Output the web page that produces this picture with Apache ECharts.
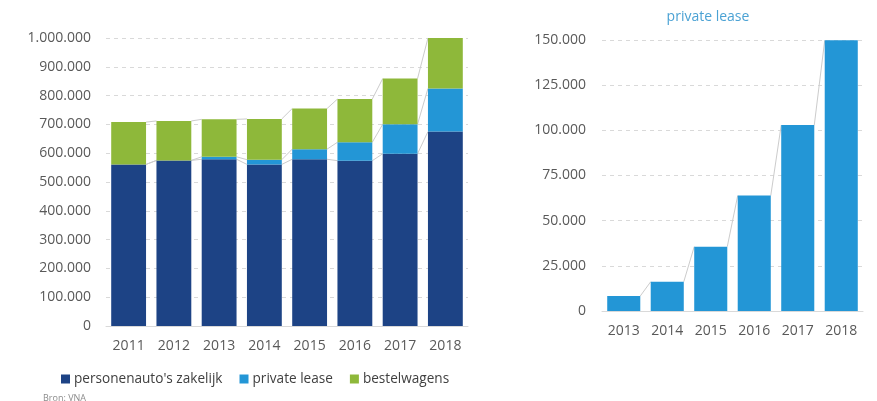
<!DOCTYPE html>
<html>
<head>
<meta charset="utf-8">
<script src="https://cdn.jsdelivr.net/npm/echarts@6/dist/echarts.min.js"></script>
<style>
html,body{margin:0;padding:0;background:#fff;}
#c{width:877px;height:401px;}
</style>
</head>
<body>
<div id="c"></div>
<script>
const years = ['2011','2012','2013','2014','2015','2016','2017','2018'];
const personenautos = [561000, 575000, 579000, 561000, 579000, 574000, 598000, 675000];
const privateLease = [0, 0, 8500, 16500, 35000, 64000, 102500, 150000];
const bestelwagens = [147000, 137000, 130000, 141500, 141000, 150000, 158500, 175000];

const plYears = ['2013','2014','2015','2016','2017','2018'];
const plValues = [8300, 16200, 35600, 63900, 102900, 149800];

const leftTicks = {min: 0, max: 1000000, interval: 100000};
const rightTicks = {min: 0, max: 150000, interval: 25000};

const FONT = '"Open Sans", "Noto Sans", sans-serif';
const C_DARK = '#1d4385';
const C_LIGHT = '#2396d6';
const C_GREEN = '#8eb83a';
const C_LINE = '#cccccc';
const LEFT_GAP = 0.23, RIGHT_GAP = 0.24;

function fmt(v){ return String(v).replace(/\B(?=(\d{3})+(?!\d))/g, '.'); }

// cumulative tops for series lines
const cum1 = personenautos.slice();
const cum2 = personenautos.map((v,i)=>v+privateLease[i]);
const cum3 = cum2.map((v,i)=>v+bestelwagens[i]);
function connectors(arr){
  const out=[];
  for(let i=0;i<arr.length-1;i++) out.push([i, arr[i], arr[i+1]]);
  return out;
}
const leftConn = connectors(cum1).concat(connectors(cum2)).concat(connectors(cum3));
const rightConn = connectors(plValues);

function makeRender(gap){
  return function(params, api){
    const i = api.value(0), a = api.value(1), b = api.value(2);
    const p1 = api.coord([i, a]);
    const p2 = api.coord([i+1, b]);
    const band = api.size([1,0])[0];
    const hw = band*(1-gap)/2;
    return {type:'line', shape:{x1:p1[0]+hw, y1:p1[1], x2:p2[0]-hw, y2:p2[1]},
      style:{stroke:C_LINE, lineWidth:1}, silent:true};
  };
}

const axisLabel = {color:'#595959', fontSize:14, fontFamily:FONT};
const split = {show:true, lineStyle:{color:'#d9d9d9', type:[4,4], width:1}};

const chart = echarts.init(document.getElementById('c'), null, {renderer:'canvas'});
chart.setOption({
  animation:false,
  backgroundColor:'#ffffff',
  textStyle:{fontFamily:FONT},
  title:[
    {text:'private lease', left:703, top:5, textAlign:'center',
     textStyle:{color:'#4ba2d4', fontSize:14, fontWeight:'normal', fontFamily:FONT}},
    {text:'Bron: VNA', left:38, top:389,
     textStyle:{color:'#8c8c8c', fontSize:9, fontWeight:'normal', fontFamily:FONT}}
  ],
  legend:{
    data:["personenauto's zakelijk",'private lease','bestelwagens'],
    left:56, top:367, itemWidth:9, itemHeight:9, itemGap:17, icon:'rect',
    textStyle:{color:'#404040', fontSize:13.6, fontFamily:FONT, padding:[0,0,0,-1]}
  },
  grid:[
    {left:106, right:409, top:38, bottom:75},
    {left:602, right:14, top:40, bottom:90}
  ],
  xAxis:[
    {type:'category', gridIndex:0, data:years, axisTick:{show:false},
     axisLine:{lineStyle:{color:'#d9d9d9'}}, axisLabel:Object.assign({margin:13}, axisLabel)},
    {type:'category', gridIndex:1, data:plYears, axisTick:{show:false},
     axisLine:{lineStyle:{color:'#d9d9d9'}}, axisLabel:Object.assign({margin:13}, axisLabel)}
  ],
  yAxis:[
    Object.assign({type:'value', gridIndex:0, splitLine:split,
     axisLabel:Object.assign({margin:15, formatter:fmt}, axisLabel)}, leftTicks),
    Object.assign({type:'value', gridIndex:1, splitLine:split,
     axisLabel:Object.assign({margin:16, formatter:fmt}, axisLabel)}, rightTicks)
  ],
  series:[
    {name:"personenauto's zakelijk", type:'bar', stack:'t', xAxisIndex:0, yAxisIndex:0,
     data:personenautos, itemStyle:{color:C_DARK}, barCategoryGap:(LEFT_GAP*100)+'%'},
    {name:'private lease', type:'bar', stack:'t', xAxisIndex:0, yAxisIndex:0,
     data:privateLease, itemStyle:{color:C_LIGHT}},
    {name:'bestelwagens', type:'bar', stack:'t', xAxisIndex:0, yAxisIndex:0,
     data:bestelwagens, itemStyle:{color:C_GREEN}},
    {name:'conn-left', type:'custom', xAxisIndex:0, yAxisIndex:0, z:1,
     renderItem:makeRender(LEFT_GAP), data:leftConn, encode:{x:0, y:[1,2]}, silent:true},
    {name:'pl-right', type:'bar', xAxisIndex:1, yAxisIndex:1, data:plValues,
     itemStyle:{color:C_LIGHT}, barCategoryGap:(RIGHT_GAP*100)+'%'},
    {name:'conn-right', type:'custom', xAxisIndex:1, yAxisIndex:1, z:1,
     renderItem:makeRender(RIGHT_GAP), data:rightConn, encode:{x:0, y:[1,2]}, silent:true}
  ]
});
</script>
</body>
</html>
